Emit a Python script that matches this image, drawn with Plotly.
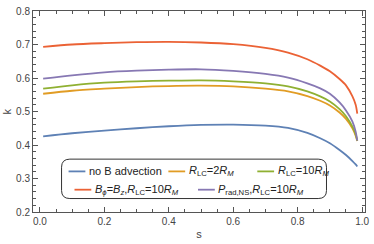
import plotly.graph_objects as go

s = [0.01, 0.1, 0.2, 0.3, 0.4, 0.5, 0.6, 0.7, 0.77, 0.83, 0.87, 0.9, 0.93, 0.95, 0.97, 0.98, 0.985]

k_no_adv = [0.426, 0.435, 0.443, 0.450, 0.456, 0.460, 0.461, 0.458, 0.451, 0.436, 0.420, 0.405, 0.385, 0.370, 0.352, 0.342, 0.336]
k_rlc2 = [0.553, 0.562, 0.568, 0.573, 0.576, 0.577, 0.575, 0.568, 0.560, 0.546, 0.532, 0.518, 0.497, 0.478, 0.450, 0.428, 0.412]
k_rlc10 = [0.568, 0.578, 0.586, 0.590, 0.592, 0.593, 0.590, 0.584, 0.575, 0.560, 0.545, 0.530, 0.507, 0.486, 0.455, 0.432, 0.413]
k_bphi = [0.693, 0.700, 0.704, 0.707, 0.708, 0.706, 0.701, 0.690, 0.676, 0.656, 0.637, 0.620, 0.597, 0.578, 0.545, 0.520, 0.494]
k_prad = [0.598, 0.608, 0.617, 0.622, 0.625, 0.626, 0.621, 0.612, 0.601, 0.584, 0.569, 0.553, 0.527, 0.503, 0.470, 0.440, 0.413]

names = [
    "no B advection",
    "<i>R</i><sub>LC</sub>=2<i>R<sub>M</sub></i>",
    "<i>R</i><sub>LC</sub>=10<i>R<sub>M</sub></i>",
    "<i>B<sub>ϕ</sub></i>=<i>B<sub>z</sub></i>,<i>R</i><sub>LC</sub>=10<i>R<sub>M</sub></i>",
    "<i>P</i><sub>rad,NS</sub>,<i>R</i><sub>LC</sub>=10<i>R<sub>M</sub></i>",
]
colors = ["#5E81B5", "#E19C24", "#8FB032", "#EB6235", "#8778B3"]
series = [k_no_adv, k_rlc2, k_rlc10, k_bphi, k_prad]

x_ticks = [0.0, 0.2, 0.4, 0.6, 0.8, 1.0]
y_ticks = [0.2, 0.3, 0.4, 0.5, 0.6, 0.7, 0.8]

fig = go.Figure()
for name, col, ys in zip(names, colors, series):
    fig.add_trace(go.Scatter(x=s, y=ys, mode="lines", name=name,
                             line=dict(color=col, width=1.8, shape="spline", smoothing=0.8),
                             showlegend=False))

axcol = "#555555"
fig.update_layout(
    width=374, height=244,
    margin=dict(l=33, r=5, t=7, b=28),
    paper_bgcolor="white", plot_bgcolor="white",
    font=dict(family="Liberation Sans, Arial, sans-serif", size=10, color="#444444"),
)
fig.update_xaxes(
    range=[-0.0215, 1.009], tickvals=x_ticks, ticktext=[f"{v:.1f}" for v in x_ticks],
    ticks="inside", ticklen=5, tickwidth=1, tickcolor=axcol,
    minor=dict(dtick=0.05, tick0=0, ticks="inside", ticklen=3, tickcolor=axcol),
    showline=True, linecolor=axcol, linewidth=1, mirror="ticks",
    showgrid=False, zeroline=False, ticklabeloverflow="allow",
    title=dict(text="s", font=dict(size=11, color="#444444"), standoff=4),
)
fig.update_yaxes(
    range=[0.2, 0.8], tickvals=y_ticks, ticktext=[f"{v:.1f}" for v in y_ticks],
    ticks="inside", ticklen=5, tickwidth=1, tickcolor=axcol,
    minor=dict(dtick=0.02, tick0=0.2, ticks="inside", ticklen=3, tickcolor=axcol),
    showline=True, linecolor=axcol, linewidth=1, mirror="ticks",
    showgrid=False, zeroline=False, ticklabeloverflow="allow",
)
fig.add_annotation(text="k", xref="paper", yref="paper", x=0, y=0.5, xshift=-27,
                   showarrow=False, textangle=-90, xanchor="center", yanchor="middle",
                   font=dict(size=11, color="#444444"))

# legend box (rounded) drawn in paper coords
x0, x1, y0, y1, r = 0.086, 0.884, 0.067, 0.263, 0.025
ry = r * 336 / 209
path = (f"M {x0+r},{y0} L {x1-r},{y0} Q {x1},{y0} {x1},{y0+ry} "
        f"L {x1},{y1-ry} Q {x1},{y1} {x1-r},{y1} L {x0+r},{y1} "
        f"Q {x0},{y1} {x0},{y1-ry} L {x0},{y0+ry} Q {x0},{y0} {x0+r},{y0} Z")
fig.add_shape(type="path", path=path, xref="paper", yref="paper",
              line=dict(color="#333333", width=1), fillcolor="white", layer="above")

# legend entries: (swatch start px, row y paper)
entries = [(69, 0.202), (170, 0.202), (260, 0.202), (75, 0.111), (200, 0.111)]
for (px, py), name, col in zip(entries, names, colors):
    xa = (px - 33) / 336
    xb = (px + 17 - 33) / 336
    fig.add_shape(type="line", xref="paper", yref="paper", x0=xa, x1=xb, y0=py, y1=py,
                  line=dict(color=col, width=1.8), layer="above")
    fig.add_annotation(x=xb + 0.005, y=py, xref="paper", yref="paper", text=name,
                       showarrow=False, xanchor="left", yanchor="middle",
                       font=dict(size=11, color="#222222"))

fig.write_html("out.html", config={"displayModeBar": False},
               post_script="document.body.style.margin='0';document.body.style.padding='0';")
